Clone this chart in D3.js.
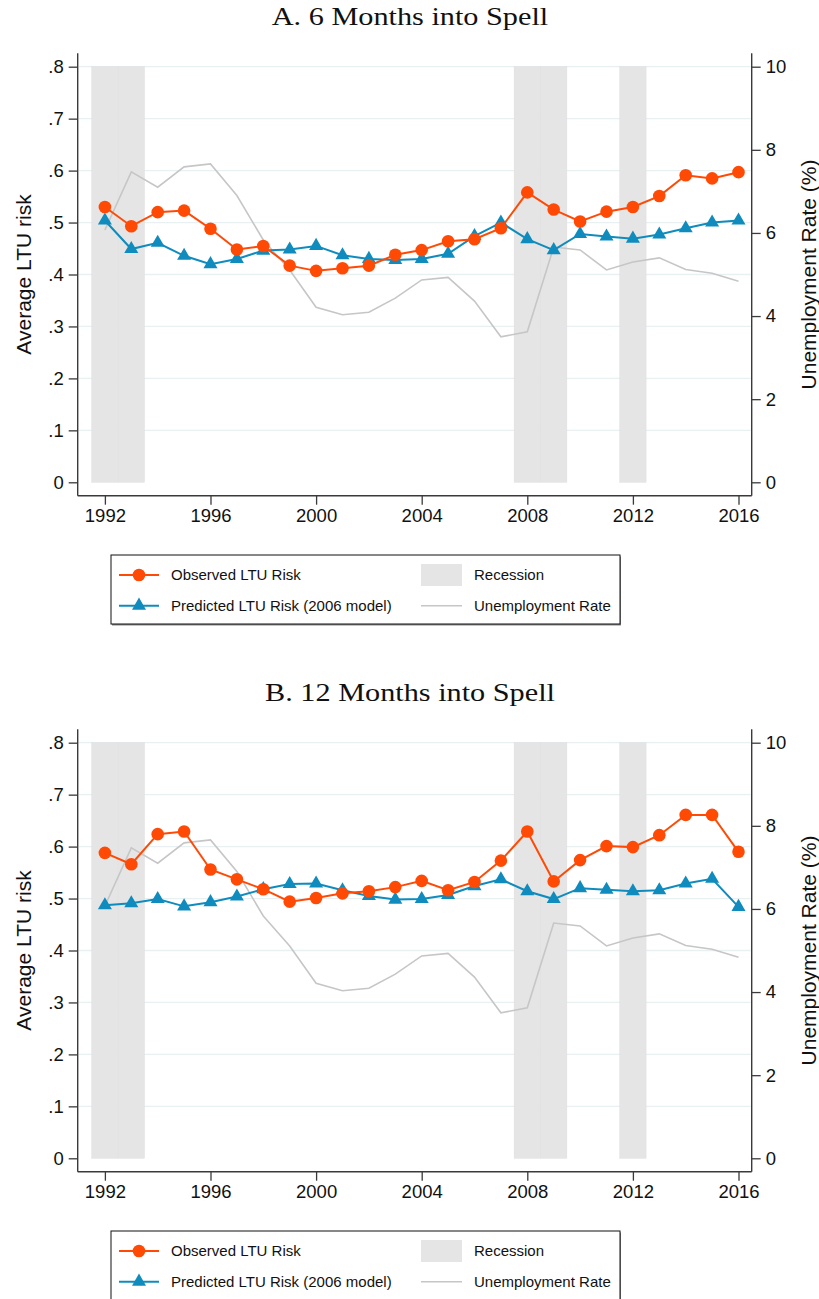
<!DOCTYPE html>
<html>
<head>
<meta charset="utf-8">
<script src="https://cdn.jsdelivr.net/npm/d3@7"></script>
<style>
  body { margin: 0; background: #fff; }
  svg { display: block; }
</style>
</head>
<body>
<svg class="chart"></svg>
<script>
// data
var years = [1992, 1993, 1994, 1995, 1996, 1997, 1998, 1999, 2000, 2001, 2002, 2003, 2004,
             2005, 2006, 2007, 2008, 2009, 2010, 2011, 2012, 2013, 2014, 2015, 2016];

// panel A: 6 months into spell
var observedA  = [.530, .493, .520, .523, .488, .448, .455, .417, .407, .412, .417, .438, .447,
                  .464, .468, .489, .558, .525, .502, .521, .530, .551, .591, .585, .597];
var predictedA = [.504, .449, .461, .436, .420, .430, .446, .448, .455, .437, .430, .428, .430,
                  .440, .474, .500, .468, .447, .478, .473, .469, .477, .489, .500, .504];

// panel B: 12 months into spell
var observedB  = [.588, .566, .624, .629, .556, .537, .518, .494, .501, .510, .514, .522, .534,
                  .516, .532, .573, .629, .533, .574, .601, .599, .622, .661, .661, .590];
var predictedB = [.487, .491, .499, .485, .493, .504, .518, .528, .529, .516, .505, .498, .499,
                  .507, .524, .537, .514, .499, .520, .517, .514, .516, .529, .538, .484];

// unemployment rate (%), right axis
var unempRate = [6.07, 7.47, 7.10, 7.59, 7.66, 6.90, 5.83, 5.11, 4.21, 4.03, 4.09, 4.43, 4.87,
                 4.93, 4.36, 3.50, 3.62, 5.66, 5.59, 5.11, 5.30, 5.40, 5.12, 5.03, 4.84];

// recession years (shaded, one bar per year)
var recessionYears = [1992, 1993, 2008, 2009, 2012];

// ticks
var xTicks = [1992, 1996, 2000, 2004, 2008, 2012, 2016];
var leftTicks = [0, .1, .2, .3, .4, .5, .6, .7, .8];
var rightTicks = [0, 2, 4, 6, 8, 10];

var panelTitles = ["A. 6 Months into Spell", "B. 12 Months into Spell"];

// sizes
var width = 819, height = 1299;
var panelShift = 676;
var plot = {left: 77.7, right: 751.7, top: 53.3, bottom: 495.7};

var orange = "#ff4a06", blue = "#0f8cbd", grayLine = "#c6c6c6", recessFill = "#e5e5e5",
    gridColor = "#e9f0f2", axisColor = "#3a3a3a";
var sansFont = "'Liberation Sans', Arial, sans-serif";

var svg = d3.select("svg.chart")
    .attr("width", width)
    .attr("height", height);

// scales (same for both panels, panel is shifted with a transform)
var x = d3.scaleLinear().domain([1990.97, 2016.5]).range([plot.left, plot.right]);
var y = d3.scaleLinear().domain([-0.0258, 0.8258]).range([plot.bottom, plot.top]);
var yRight = d3.scaleLinear().domain([-0.3225, 10.3225]).range([plot.bottom, plot.top]);

function drawPanel(idx, observed, predicted) {
    var g = svg.append("g")
	.attr("transform", "translate(0," + idx * panelShift + ")");

    // title (serif, widened a bit to look like Computer Modern)
    var title = g.append("text")
	.attr("x", 410)
	.attr("y", 25)
	.attr("text-anchor", "middle")
	.attr("font-family", "'Liberation Serif', 'DejaVu Serif', serif")
	.attr("font-size", 25)
	.attr("fill", "#111")
	.text(panelTitles[idx]);
    var natural = title.node().getComputedTextLength();
    title.attr("textLength", natural * 1.21).attr("lengthAdjust", "spacingAndGlyphs");

    // gridlines
    g.append("g").selectAll("line")
	.data(leftTicks.filter(function(d) { return d > 0; }))
      .enter().append("line")
	.attr("x1", plot.left + 1).attr("x2", plot.right - 1)
	.attr("y1", function(d) { return y(d); })
	.attr("y2", function(d) { return y(d); })
	.attr("stroke", gridColor)
	.attr("stroke-width", 1.3);

    // recession bars
    g.append("g").selectAll("rect")
	.data(recessionYears)
      .enter().append("rect")
	.attr("x", function(d) { return x(d - 0.5); })
	.attr("width", function(d) { return x(d + 0.5) - x(d - 0.5); })
	.attr("y", y(0.8))
	.attr("height", y(0) - y(0.8))
	.attr("fill", recessFill)
	.attr("stroke", "#dddddd")
	.attr("stroke-width", 0.4);

    // unemployment rate
    var urLine = d3.line()
	.x(function(d, i) { return x(years[i]); })
	.y(function(d) { return yRight(d); });
    g.append("path")
	.datum(unempRate)
	.attr("d", urLine)
	.attr("fill", "none")
	.attr("stroke", grayLine)
	.attr("stroke-width", 1.6);

    var riskLine = d3.line()
	.x(function(d, i) { return x(years[i]); })
	.y(function(d) { return y(d); });

    // predicted (blue triangles)
    g.append("path")
	.datum(predicted)
	.attr("d", riskLine)
	.attr("fill", "none")
	.attr("stroke", blue)
	.attr("stroke-width", 2);
    g.append("g").selectAll("path")
	.data(predicted)
      .enter().append("path")
	.attr("d", d3.symbol(d3.symbolTriangle).size(85))
	.attr("transform", function(d, i) { return "translate(" + x(years[i]) + "," + y(d) + ")"; })
	.attr("fill", blue);

    // observed (orange circles)
    g.append("path")
	.datum(observed)
	.attr("d", riskLine)
	.attr("fill", "none")
	.attr("stroke", orange)
	.attr("stroke-width", 2);
    g.append("g").selectAll("circle")
	.data(observed)
      .enter().append("circle")
	.attr("cx", function(d, i) { return x(years[i]); })
	.attr("cy", function(d) { return y(d); })
	.attr("r", 6.3)
	.attr("fill", orange);

    // axes
    var leftAxis = g.append("g")
	.attr("transform", "translate(" + plot.left + ",0)")
	.call(d3.axisLeft(y).tickValues(leftTicks).tickSize(9).tickPadding(5)
	      .tickFormat(function(d) { return d === 0 ? "0" : d3.format(".1f")(d).replace(/^0/, ""); }));
    var rightAxis = g.append("g")
	.attr("transform", "translate(" + plot.right + ",0)")
	.call(d3.axisRight(yRight).tickValues(rightTicks).tickSize(9).tickPadding(5));
    var bottomAxis = g.append("g")
	.attr("transform", "translate(0," + plot.bottom + ")")
	.call(d3.axisBottom(x).tickValues(xTicks).tickSize(9).tickPadding(4).tickFormat(d3.format("d")));

    [leftAxis, rightAxis, bottomAxis].forEach(function(a) {
	a.select(".domain").attr("stroke", axisColor).attr("stroke-width", 1.4)
	    .attr("d", a === bottomAxis
		  ? "M" + plot.left + ",0H" + plot.right
		  : "M0," + plot.top + "V" + plot.bottom);
	a.selectAll(".tick line").attr("stroke", axisColor).attr("stroke-width", 1.3);
	a.selectAll(".tick text")
	    .attr("font-family", sansFont)
	    .attr("font-size", 18.5)
	    .attr("fill", "#111");
    });

    // axis titles
    g.append("text")
	.attr("transform", "translate(31," + (plot.top + plot.bottom) / 2 + ") rotate(-90)")
	.attr("text-anchor", "middle")
	.attr("font-family", sansFont)
	.attr("font-size", 21)
	.attr("fill", "#111")
	.text("Average LTU risk");
    g.append("text")
	.attr("transform", "translate(815.5," + (plot.top + plot.bottom) / 2 + ") rotate(-90)")
	.attr("text-anchor", "middle")
	.attr("font-family", sansFont)
	.attr("font-size", 21)
	.attr("fill", "#111")
	.text("Unemployment Rate (%)");

    // legend
    var lg = g.append("g").attr("transform", "translate(111,555)");
    lg.append("rect")
	.attr("x", 1).attr("y", 1.5).attr("width", 509).attr("height", 69)
	.attr("fill", "#888");
    lg.append("rect")
	.attr("width", 509).attr("height", 69)
	.attr("fill", "#fff")
	.attr("stroke", "#111")
	.attr("stroke-width", 1);

    var row1 = 20, row2 = 50.7;
    lg.append("line").attr("x1", 8).attr("x2", 48).attr("y1", row1).attr("y2", row1)
	.attr("stroke", orange).attr("stroke-width", 2);
    lg.append("circle").attr("cx", 28).attr("cy", row1).attr("r", 6.3).attr("fill", orange);
    lg.append("line").attr("x1", 8).attr("x2", 48).attr("y1", row2).attr("y2", row2)
	.attr("stroke", blue).attr("stroke-width", 2);
    lg.append("path")
	.attr("d", d3.symbol(d3.symbolTriangle).size(85))
	.attr("transform", "translate(28," + row2 + ")")
	.attr("fill", blue);
    lg.append("rect").attr("x", 310).attr("y", row1 - 11).attr("width", 41).attr("height", 22)
	.attr("fill", recessFill);
    lg.append("line").attr("x1", 310).attr("x2", 351).attr("y1", row2).attr("y2", row2)
	.attr("stroke", grayLine).attr("stroke-width", 1.6);

    var labels = [
	{text: "Observed LTU Risk", x: 60, y: row1},
	{text: "Predicted LTU Risk (2006 model)", x: 60, y: row2},
	{text: "Recession", x: 363, y: row1},
	{text: "Unemployment Rate", x: 363, y: row2}
    ];
    lg.selectAll("text.lab")
	.data(labels)
      .enter().append("text")
	.attr("class", "lab")
	.attr("x", function(d) { return d.x; })
	.attr("y", function(d) { return d.y; })
	.attr("dy", "0.35em")
	.attr("font-family", sansFont)
	.attr("font-size", 15)
	.attr("fill", "#111")
	.text(function(d) { return d.text; });
}

drawPanel(0, observedA, predictedA);
drawPanel(1, observedB, predictedB);
</script>
</body>
</html>
